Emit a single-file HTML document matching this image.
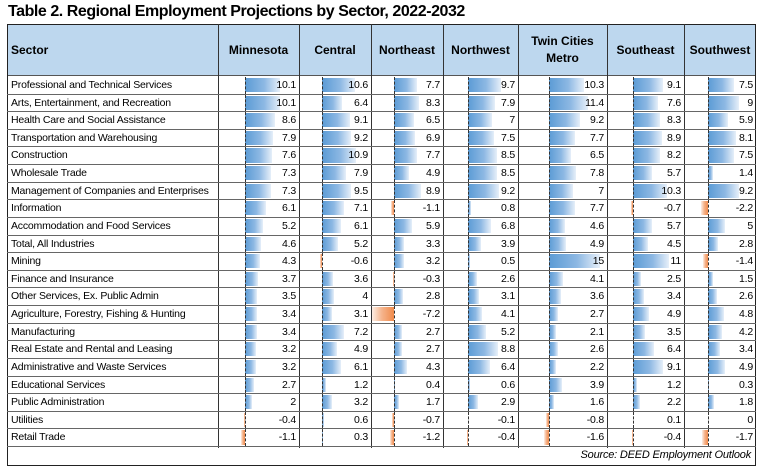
<!DOCTYPE html>
<html><head><meta charset="utf-8"><style>
body{margin:0;width:763px;height:468px;background:#fff;font-family:"Liberation Sans",Arial,sans-serif;position:relative;overflow:hidden;color:#000}
.t{position:absolute;left:8px;top:3px;font-weight:bold;font-size:16px;letter-spacing:-0.45px}
.box{position:absolute;left:7px;top:24px;width:749px;height:442px;border:1px solid #222;box-sizing:border-box}
.hdr{position:absolute;left:8px;top:25px;width:747px;height:50px;background:#BDD7EE;border-bottom:1px solid #555}
.hl{position:absolute;font-weight:bold;font-size:12px;text-align:center;line-height:17px}
.vl{position:absolute;width:1px;background:#333}
.hr{position:absolute;left:7px;width:749px;height:1px;background:#666}
.c{position:absolute;font-size:10.5px;line-height:17px;white-space:nowrap;letter-spacing:-0.2px}
.ax{position:absolute;width:0;border-left:1px dashed #333}
.bp{position:absolute;background:linear-gradient(to right,#5B9BD5 0%,#8DB8E3 55%,#E6EFF9 100%)}
.bn{position:absolute;background:linear-gradient(to left,#F08A4B 0%,#F5B48C 55%,#FDEEE5 100%)}
.src{position:absolute;right:12px;top:449px;font-size:11px;font-style:italic;letter-spacing:-0.2px}
</style></head><body>
<div class="t">Table 2. Regional Employment Projections by Sector, 2022-2032</div>
<div class="hdr"></div>
<div class="box"></div>
<div id="g"></div>
<div class="src">Source: DEED Employment Outlook</div>
<script>
var rows=[["Professional and Technical Services",10.1,10.6,7.7,9.7,10.3,9.1,7.5],
["Arts, Entertainment, and Recreation",10.1,6.4,8.3,7.9,11.4,7.6,9],
["Health Care and Social Assistance",8.6,9.1,6.5,7,9.2,8.3,5.9],
["Transportation and Warehousing",7.9,9.2,6.9,7.5,7.7,8.9,8.1],
["Construction",7.6,10.9,7.7,8.5,6.5,8.2,7.5],
["Wholesale Trade",7.3,7.9,4.9,8.5,7.8,5.7,1.4],
["Management of Companies and Enterprises",7.3,9.5,8.9,9.2,7,10.3,9.2],
["Information",6.1,7.1,-1.1,0.8,7.7,-0.7,-2.2],
["Accommodation and Food Services",5.2,6.1,5.9,6.8,4.6,5.7,5],
["Total, All Industries",4.6,5.2,3.3,3.9,4.9,4.5,2.8],
["Mining",4.3,-0.6,3.2,0.5,15,11,-1.4],
["Finance and Insurance",3.7,3.6,-0.3,2.6,4.1,2.5,1.5],
["Other Services, Ex. Public Admin",3.5,4,2.8,3.1,3.6,3.4,2.6],
["Agriculture, Forestry, Fishing & Hunting",3.4,3.1,-7.2,4.1,2.7,4.9,4.8],
["Manufacturing",3.4,7.2,2.7,5.2,2.1,3.5,4.2],
["Real Estate and Rental and Leasing",3.2,4.9,2.7,8.8,2.6,6.4,3.4],
["Administrative and Waste Services",3.2,6.1,4.3,6.4,2.2,9.1,4.9],
["Educational Services",2.7,1.2,0.4,0.6,3.9,1.2,0.3],
["Public Administration",2,3.2,1.7,2.9,1.6,2.2,1.8],
["Utilities",-0.4,0.6,-0.7,-0.1,-0.8,0.1,0],
["Retail Trade",-1.1,0.3,-1.2,-0.4,-1.6,-0.4,-1.7]];
var b=[7,218,299,371,443,518,607,684,756];
var ax=[245,322,394,468,549,633,708];
var k=[3.5,3.1,3.05,3.4,3.4,3.3,3.4];
var hd=["Minnesota","Central","Northeast","Northwest","Twin Cities<br>Metro","Southeast","Southwest"];
var h='';
h+='<div class="hl" style="left:11px;top:42px;text-align:left">Sector</div>';
for(var i=0;i<7;i++){var two=i==4;h+='<div class="hl" style="left:'+b[i+1]+'px;width:'+(b[i+2]-b[i+1])+'px;top:'+(two?33:42)+'px">'+hd[i]+'</div>';}
for(var i=1;i<8;i++)h+='<div class="vl" style="left:'+b[i]+'px;top:24px;height:424px"></div>';
var top0=76,rh=17.62;
for(var r=0;r<21;r++){var y=top0+r*rh;
h+='<div class="hr" style="top:'+Math.round(y+rh)+'px"></div>';
h+='<div class="c" style="left:11px;top:'+(y+1)+'px">'+rows[r][0]+'</div>';
for(var j=0;j<7;j++){var v=rows[r][j+1];var L=Math.abs(v)*k[j];
if(v>0)h+='<div class="bp" style="left:'+ax[j]+'px;top:'+(y+2)+'px;width:'+L+'px;height:'+(rh-3.5)+'px"></div>';
else if(v<0)h+='<div class="bn" style="left:'+(ax[j]-L)+'px;top:'+(y+2)+'px;width:'+L+'px;height:'+(rh-3.5)+'px"></div>';
h+='<div class="ax" style="left:'+ax[j]+'px;top:'+(y+1)+'px;height:'+(rh-1)+'px"></div>';
h+='<div class="c" style="right:'+(763-b[j+2]+3)+'px;top:'+(y+1)+'px">'+v+'</div>';}
}
document.getElementById('g').innerHTML=h;
</script>
</body></html>
